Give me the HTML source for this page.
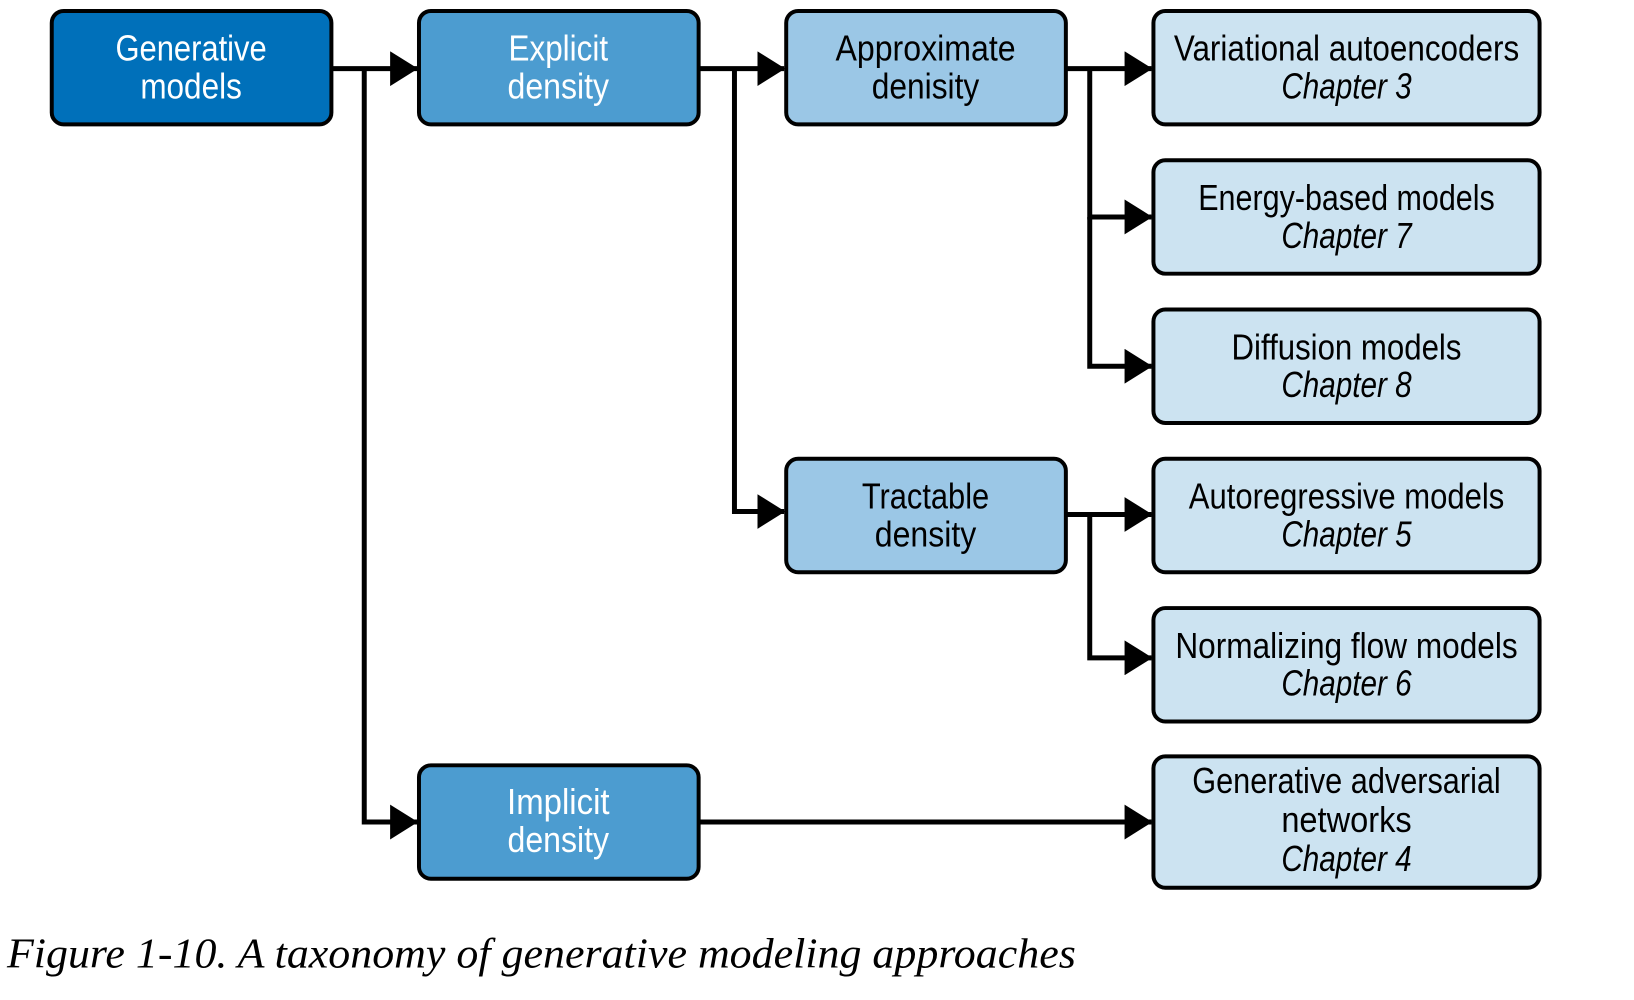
<!DOCTYPE html>
<html><head><meta charset="utf-8"><style>
html,body{margin:0;padding:0;background:#fff;}
svg{display:block}
text{font-family:"Liberation Sans Narrow","Liberation Sans",sans-serif;font-size:36px;text-anchor:middle;}
.w{fill:#fff}
.k{fill:#000}
.i{font-style:italic}
</style></head><body>
<svg width="1634" height="1000" viewBox="0 0 1634 1000" xmlns="http://www.w3.org/2000/svg">
<defs>
<marker id="a" markerWidth="6" markerHeight="7" refX="5.4" refY="3.5" orient="auto" markerUnits="strokeWidth">
<path d="M0,0 L5.6,3.5 L0,7 Z" fill="#000"/>
</marker>
</defs>
<g transform="scale(0.9952)">
<g stroke="#000" stroke-width="5" fill="none">
<path d="M333,69 H419" marker-end="url(#a)"/>
<path d="M366,69 V826 H419" marker-end="url(#a)"/>
<path d="M702,69 H788" marker-end="url(#a)"/>
<path d="M738,69 V514 H788" marker-end="url(#a)"/>
<path d="M1071,69 H1157" marker-end="url(#a)"/>
<path d="M1095,69 V218 H1157" marker-end="url(#a)"/>
<path d="M1095,218 V368 H1157" marker-end="url(#a)"/>
<path d="M1071,517 H1157" marker-end="url(#a)"/>
<path d="M1095,517 V661 H1157" marker-end="url(#a)"/>
<path d="M702,826 H1157" marker-end="url(#a)"/>
</g>
<g stroke="#000" stroke-width="4">
<rect x="52" y="11" width="281" height="114" rx="12" fill="#0070BA"/>
<rect x="421" y="11" width="281" height="114" rx="12" fill="#4C9CD0"/>
<rect x="790" y="11" width="281" height="114" rx="12" fill="#9BC7E6"/>
<rect x="790" y="461" width="281" height="114" rx="12" fill="#9BC7E6"/>
<rect x="421" y="769" width="281" height="114" rx="12" fill="#4C9CD0"/>
<rect x="1159" y="11" width="388" height="114" rx="12" fill="#CCE3F1"/>
<rect x="1159" y="161" width="388" height="114" rx="12" fill="#CCE3F1"/>
<rect x="1159" y="311" width="388" height="114" rx="12" fill="#CCE3F1"/>
<rect x="1159" y="461" width="388" height="114" rx="12" fill="#CCE3F1"/>
<rect x="1159" y="611" width="388" height="114" rx="12" fill="#CCE3F1"/>
<rect x="1159" y="760" width="388" height="132" rx="12" fill="#CCE3F1"/>
</g>
<text class="w" x="192" y="61" textLength="152" lengthAdjust="spacingAndGlyphs">Generative</text>
<text class="w" x="192" y="99" textLength="102" lengthAdjust="spacingAndGlyphs">models</text>
<text class="w" x="561" y="61" textLength="100" lengthAdjust="spacingAndGlyphs">Explicit</text>
<text class="w" x="561" y="99" textLength="102" lengthAdjust="spacingAndGlyphs">density</text>
<text class="k" x="930" y="61" textLength="181" lengthAdjust="spacingAndGlyphs">Approximate</text>
<text class="k" x="930" y="99" textLength="108" lengthAdjust="spacingAndGlyphs">denisity</text>
<text class="k" x="930" y="511" textLength="128" lengthAdjust="spacingAndGlyphs">Tractable</text>
<text class="k" x="930" y="549" textLength="102" lengthAdjust="spacingAndGlyphs">density</text>
<text class="w" x="561" y="818" textLength="103" lengthAdjust="spacingAndGlyphs">Implicit</text>
<text class="w" x="561" y="856" textLength="102" lengthAdjust="spacingAndGlyphs">density</text>
<text class="k" x="1353" y="61" textLength="347" lengthAdjust="spacingAndGlyphs">Variational autoencoders</text>
<text class="k i" x="1353" y="99" textLength="131" lengthAdjust="spacingAndGlyphs">Chapter 3</text>
<text class="k" x="1353" y="211" textLength="298" lengthAdjust="spacingAndGlyphs">Energy-based models</text>
<text class="k i" x="1353" y="249" textLength="131" lengthAdjust="spacingAndGlyphs">Chapter 7</text>
<text class="k" x="1353" y="361" textLength="231" lengthAdjust="spacingAndGlyphs">Diffusion models</text>
<text class="k i" x="1353" y="399" textLength="131" lengthAdjust="spacingAndGlyphs">Chapter 8</text>
<text class="k" x="1353" y="511" textLength="317" lengthAdjust="spacingAndGlyphs">Autoregressive models</text>
<text class="k i" x="1353" y="549" textLength="131" lengthAdjust="spacingAndGlyphs">Chapter 5</text>
<text class="k" x="1353" y="661" textLength="344" lengthAdjust="spacingAndGlyphs">Normalizing flow models</text>
<text class="k i" x="1353" y="699" textLength="131" lengthAdjust="spacingAndGlyphs">Chapter 6</text>
<text class="k" x="1353" y="797" textLength="310" lengthAdjust="spacingAndGlyphs">Generative adversarial</text>
<text class="k" x="1353" y="836" textLength="131" lengthAdjust="spacingAndGlyphs">networks</text>
<text class="k i" x="1353" y="875" textLength="131" lengthAdjust="spacingAndGlyphs">Chapter 4</text>
<text x="7" y="972" textLength="1074" lengthAdjust="spacingAndGlyphs" style="font-family:'Liberation Serif',serif;font-style:italic;font-size:42px;text-anchor:start">Figure 1-10. A taxonomy of generative modeling approaches</text>
</g>
</svg>
</body></html>
